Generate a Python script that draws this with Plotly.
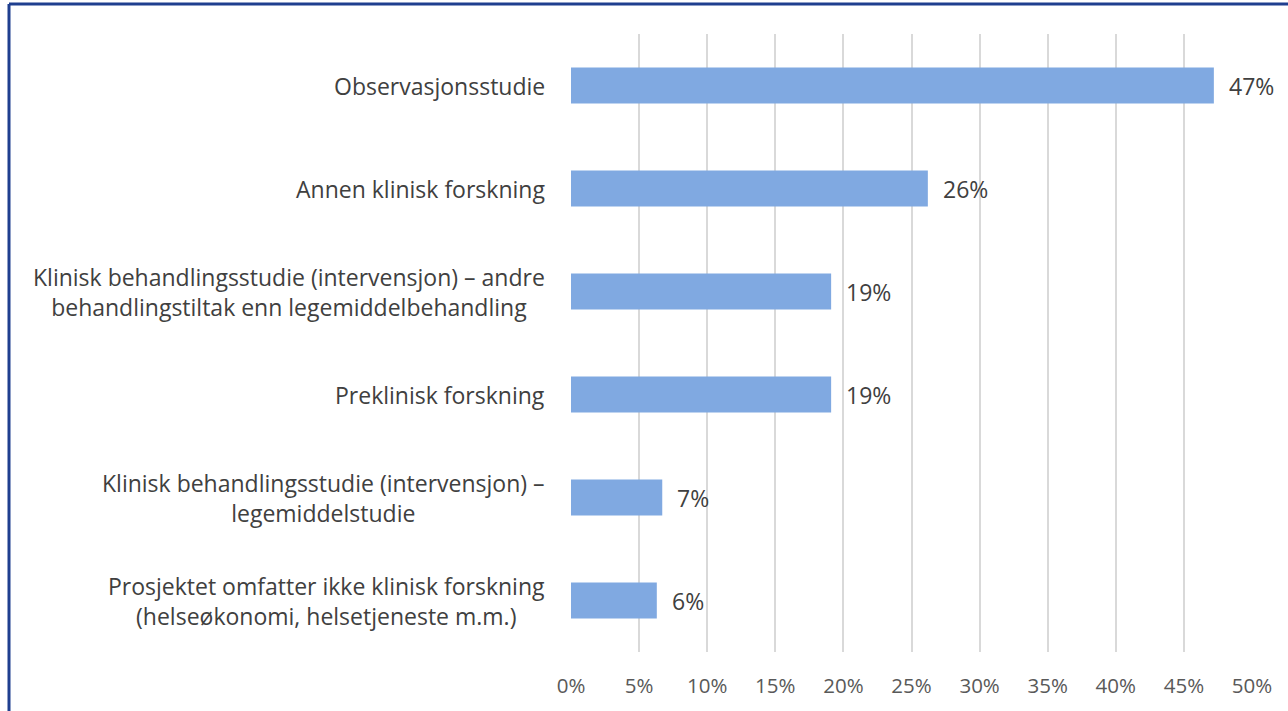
"""Horizontal bar chart: type of research in projects (share of projects)."""

import plotly.graph_objects as go

CATEGORIES = [
    "Observasjonsstudie",
    "Annen klinisk forskning",
    "Klinisk behandlingsstudie (intervensjon) – andre<br>behandlingstiltak enn legemiddelbehandling",
    "Preklinisk forskning",
    "Klinisk behandlingsstudie (intervensjon) –<br>legemiddelstudie",
    "Prosjektet omfatter ikke klinisk forskning<br>(helseøkonomi, helsetjeneste m.m.)",
]
SHARES = [47.2, 26.2, 19.1, 19.1, 6.7, 6.3]
TICK_VALUES = list(range(0, 55, 5))
TICK_LABELS = [f"{v}%" for v in TICK_VALUES]

WIDTH, HEIGHT = 1288, 711
MARGIN = dict(l=571, r=36, t=34, b=59)
FONT = "'Open Sans', sans-serif"
LABEL_SIZE = 23
BAR_COLOR = "#80A9E1"
BORDER_COLOR = "#1F3F8F"

fig = go.Figure(
    go.Bar(
        x=SHARES,
        y=CATEGORIES,
        orientation="h",
        marker=dict(color=BAR_COLOR, line=dict(width=0)),
        width=0.35,
        hoverinfo="skip",
    )
)

# category labels, centred multi-line text left of the axis
for cat in CATEGORIES:
    fig.add_annotation(
        x=0, y=cat, xref="x", yref="y",
        text=cat, showarrow=False,
        xanchor="right", xshift=-24, align="center",
        font=dict(family=FONT, size=LABEL_SIZE, color="#404040"),
    )

# value labels next to each bar
for cat, val in zip(CATEGORIES, SHARES):
    fig.add_annotation(
        x=val, y=cat, xref="x", yref="y",
        text=f"{val:.0f}%", showarrow=False,
        xanchor="left", xshift=13,
        font=dict(family=FONT, size=LABEL_SIZE, color="#404040"),
    )

# frame lines (top and left) that sit outside the plot area
plot_w = WIDTH - MARGIN["l"] - MARGIN["r"]
plot_h = HEIGHT - MARGIN["t"] - MARGIN["b"]
left_px, top_px = 9, 4
x_left = (left_px - MARGIN["l"]) / plot_w
y_top = (HEIGHT - MARGIN["b"] - top_px) / plot_h
fig.add_shape(type="line", xref="paper", yref="paper", x0=x_left, x1=2, y0=y_top, y1=y_top,
              line=dict(color=BORDER_COLOR, width=3))
fig.add_shape(type="line", xref="paper", yref="paper", x0=x_left, x1=x_left, y0=y_top, y1=-1,
              line=dict(color=BORDER_COLOR, width=3))

fig.update_layout(
    width=WIDTH,
    height=HEIGHT,
    margin=MARGIN,
    paper_bgcolor="white",
    plot_bgcolor="white",
    showlegend=False,
    font=dict(family=FONT, color="#595959"),
    xaxis=dict(
        range=[0, 50],
        tickvals=TICK_VALUES,
        ticktext=TICK_LABELS,
        showgrid=True,
        gridcolor="#D9D9D9",
        gridwidth=1.5,
        zeroline=False,
        showline=False,
        ticks="",
        ticklabelstandoff=19,
        tickfont=dict(family=FONT, size=20.5, color="#595959"),
        fixedrange=True,
    ),
    yaxis=dict(
        autorange="reversed",
        showticklabels=False,
        showgrid=False,
        zeroline=False,
        showline=False,
        fixedrange=True,
    ),
)

# drop the browser's default 8px body margin so the figure sits at the page origin
fig.write_html(
    "out.html",
    config={"displayModeBar": False},
    post_script="document.body.style.margin='0';",
)
